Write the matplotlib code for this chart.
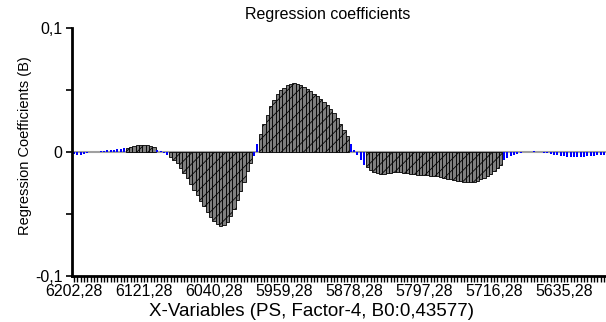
import numpy as np
import matplotlib.pyplot as plt

plt.rcParams['font.family'] = ['Liberation Sans', 'DejaVu Sans']

# wavenumbers of the X-variables (first variable and spacing)
x_first = 6202.28
x_step = 81.0 / 21

# regression coefficients, in units of 1e-3
coef_e3 = [
    -2.0, -2.2, -2.2, -1.6, -0.8, -0.4, 0.2, 0.4, 0.8, 1.0,
    1.4, 1.6, 2.0, 2.4, 2.6, 2.9, 3.6, 4.4, 5.0, 5.4,
    5.6, 5.6, 5.4, 4.8, 4.0, 2.0, 0.8, -0.8, -2.4, -4.0,
    -6.2, -8.9, -12.9, -16.9, -21.0, -25.8, -30.6, -34.7, -39.5, -43.5,
    -48.4, -52.4, -55.6, -58.0, -59.6, -58.8, -56.4, -51.6, -45.9, -38.7,
    -31.4, -24.2, -15.3, -8.9, -3.2, 6.4, 14.5, 22.6, 29.8, 37.1,
    41.9, 46.7, 50.0, 51.6, 54.0, 54.8, 55.6, 54.8, 54.0, 52.4,
    50.8, 49.2, 46.7, 45.1, 42.7, 40.3, 37.9, 34.7, 31.4, 27.4,
    22.6, 17.7, 12.9, 6.4, 2.0, -2.4, -6.4, -10.5, -12.1, -14.5,
    -16.1, -17.3, -17.7, -17.7, -17.3, -16.9, -16.5, -16.1, -16.5, -16.9,
    -17.3, -17.7, -18.1, -18.5, -18.5, -18.5, -18.9, -19.3, -19.3, -19.7,
    -20.2, -21.0, -21.4, -21.8, -22.6, -23.4, -23.4, -23.8, -24.2, -24.2,
    -23.8, -23.0, -21.8, -20.6, -19.3, -17.7, -15.7, -12.9, -10.1, -6.4,
    -4.8, -3.6, -2.4, -1.6, -0.8, -0.4, 0.0, 0.2, 0.8, 0.2,
    0.0, -0.8, -1.2, -1.6, -2.4, -2.8, -3.2, -3.6, -4.0, -4.0,
    -4.4, -4.0, -4.0, -4.0, -3.6, -3.2, -3.2, -2.8, -2.8, -2.4,
]

# index ranges of significant variables (drawn grey)
sig_ranges = [(16, 24), (29, 53), (56, 82), (88, 128)]

tick_every = 21
tick_labels = ['6202,28', '6121,28', '6040,28', '5959,28',
               '5878,28', '5797,28', '5716,28', '5635,28']
y_ticks = [-0.1, 0.0, 0.1]
y_tick_labels = ['-0,1', '0', '0,1']

coef = np.array(coef_e3) * 1e-3
n = len(coef)
xv = x_first - x_step * np.arange(n)
sig = np.zeros(n, dtype=bool)
for a, b in sig_ranges:
    sig[a:b + 1] = True

fig = plt.figure(figsize=(6.06, 3.22), dpi=100)
ax = fig.add_axes([72 / 606, 46 / 322, 534 / 606, 248 / 322])

ax.axhline(0, color='#a0a0a0', lw=1.5, zorder=1)
plt.rcParams['hatch.linewidth'] = 0.6
ax.bar(xv[sig], coef[sig], width=x_step * 0.95, color='#7f7f7f',
       edgecolor='black', linewidth=0.6, hatch='///', zorder=2)
ax.bar(xv[~sig], coef[~sig], width=x_step * 0.6, color='#0000ff',
       linewidth=0, zorder=2)

ax.set_xlim(x_first + 0.6 * x_step, x_first - (n - 0.4) * x_step)
ax.set_ylim(-0.1, 0.1)

ax.set_xticks(xv[::tick_every][:len(tick_labels)])
ax.set_xticklabels(tick_labels, fontsize=11.5)
ax.set_xticks(xv, minor=True)
ax.set_yticks(y_ticks)
ax.set_yticklabels(y_tick_labels, fontsize=11.5)
ax.set_yticks([-0.05, 0.05], minor=True)
ax.tick_params(which='both', direction='out', length=4, width=1.2, colors='black')
ax.tick_params(axis='x', which='both', length=4, width=1.0, pad=2)
ax.tick_params(axis='y', pad=3)

for s in ['top', 'right']:
    ax.spines[s].set_visible(False)
for s in ['left', 'bottom']:
    ax.spines[s].set_linewidth(2)

fig.text(25 / 606, 1 - 146 / 322, 'Regression Coefficients (B)', fontsize=10.5,
         rotation=90, ha='center', va='center')
fig.text(311 / 606, 1 - 311 / 322, 'X-Variables (PS, Factor-4, B0:0,43577)',
         fontsize=13.5, ha='center', va='center')
fig.text(328 / 606, 1 - 14 / 322, 'Regression coefficients', fontsize=11.5,
         ha='center', va='center')

fig.savefig('out.png', dpi=100)
